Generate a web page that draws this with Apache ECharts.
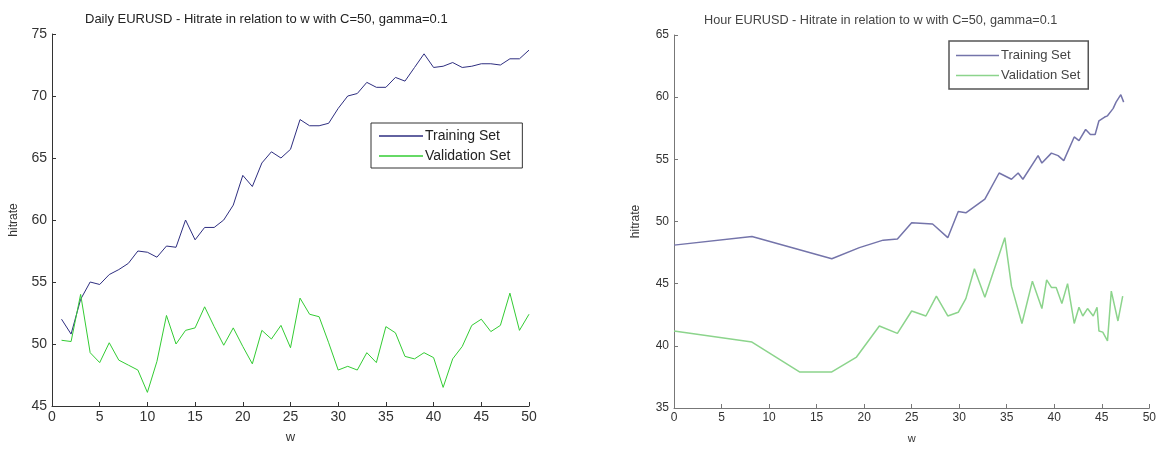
<!DOCTYPE html>
<html>
<head>
<meta charset="utf-8">
<script src="https://cdn.jsdelivr.net/npm/echarts@6/dist/echarts.min.js"></script>
<style>
  html, body { margin: 0; padding: 0; background: #fff; }
  #chart { width: 1159px; height: 449px; }
</style>
</head>
<body>
<div id="chart"></div>
<script>
// daily chart (left)
const dailyW = [1, 2, 3, 4, 5, 6, 7, 8, 9, 10, 11, 12, 13, 14, 15, 16, 17, 18, 19, 20,
  21, 22, 23, 24, 25, 26, 27, 28, 29, 30, 31, 32, 33, 34, 35, 36, 37, 38, 39, 40,
  41, 42, 43, 44, 45, 46, 47, 48, 49, 50];
const dailyTrain = [52.0, 50.8, 53.6, 55.0, 54.8, 55.6, 56.0, 56.5, 57.5, 57.4,
  57.0, 57.9, 57.8, 60.0, 58.4, 59.4, 59.4, 60.0, 61.2, 63.6,
  62.7, 64.6, 65.5, 65.0, 65.7, 68.1, 67.6, 67.6, 67.8, 69.0,
  70.0, 70.2, 71.1, 70.7, 70.7, 71.5, 71.2, 72.3, 73.4, 72.3,
  72.4, 72.7, 72.3, 72.4, 72.6, 72.6, 72.5, 73.0, 73.0, 73.7];
const dailyValid = [50.3, 50.2, 54.0, 49.3, 48.5, 50.1, 48.7, 48.3, 47.9, 46.1,
  48.6, 52.3, 50.0, 51.1, 51.3, 53.0, 51.4, 49.9, 51.3, 49.8,
  48.4, 51.1, 50.4, 51.5, 49.7, 53.7, 52.4, 52.2, 50.1, 47.9,
  48.2, 47.9, 49.3, 48.5, 51.4, 50.9, 49.0, 48.8, 49.3, 48.9,
  46.5, 48.8, 49.8, 51.5, 52.0, 51.0, 51.5, 54.1, 51.1, 52.4];

// hourly chart (right), x positions
const hourTrainW = [0, 8.2, 16.6, 19.5, 22, 23.5, 25, 27.2, 27.5, 28.8, 29.9, 30.7, 32.7,
  34.2, 35.5, 36.2, 36.7, 38.3, 38.7, 39.7, 40.4, 41, 42.1, 42.6, 43.3, 43.8,
  44.3, 44.7, 45.3, 45.6, 46, 46.2, 46.5, 47, 47.3];
const hourTrain = [48.1, 48.8, 47.0, 47.9, 48.5, 48.6, 49.9, 49.8, 49.6, 48.7, 50.8, 50.7, 51.8,
  53.9, 53.4, 53.9, 53.4, 55.3, 54.7, 55.5, 55.3, 54.9, 56.8, 56.5, 57.4, 57.0,
  57.0, 58.1, 58.4, 58.5, 58.9, 59.1, 59.6, 60.2, 59.6];
const hourValidW = [0, 8.2, 13.2, 16.6, 19.2, 21.6, 23.5, 25, 26.5, 27.6, 28.8, 29.9, 30.7,
  31.6, 32.7, 34.8, 35.5, 36.6, 37.7, 38.7, 39.2, 39.7, 40.2, 40.8, 41.4, 42.1,
  42.6, 43, 43.5, 44.1, 44.5, 44.7, 45.1, 45.6, 46, 46.7, 47.2];
const hourValid = [41.2, 40.3, 37.9, 37.9, 39.1, 41.6, 41.0, 42.8, 42.4, 44.0, 42.4, 42.7, 43.8,
  46.2, 43.9, 48.7, 44.8, 41.8, 45.2, 43.0, 45.3, 44.7, 44.7, 43.4, 45.0, 41.8,
  43.1, 42.4, 43.0, 42.4, 43.1, 41.2, 41.1, 40.4, 44.4, 42.0, 44.0];

const xTicks = [0, 5, 10, 15, 20, 25, 30, 35, 40, 45, 50];

const FONT = 'Liberation Sans';
const DARK_BLUE = '#2e2e80';
const DARK_GREEN = '#33cc33';
const PALE_BLUE = '#7474aa';
const PALE_GREEN = '#8cd48c';

function pairs(xs, ys) {
  return xs.map((x, i) => [x, ys[i]]);
}

function xAxisFor(idx, axisColor, size) {
  return {
    gridIndex: idx,
    type: 'value',
    min: xTicks[0],
    max: xTicks[xTicks.length - 1],
    interval: 5,
    name: 'w',
    nameLocation: 'middle',
    nameGap: 25,
    nameTextStyle: { fontFamily: FONT, fontSize: size - 1, color: '#333' },
    splitLine: { show: false },
    axisLine: { lineStyle: { color: axisColor, width: 1 } },
    axisTick: { inside: true, length: 4, lineStyle: { color: axisColor } },
    axisLabel: { fontFamily: FONT, fontSize: size, color: '#333', margin: 4 }
  };
}

function yAxisFor(idx, min, max, axisColor, size) {
  return {
    gridIndex: idx,
    type: 'value',
    min: min,
    max: max,
    interval: 5,
    name: 'hitrate',
    nameLocation: 'middle',
    nameGap: 32,
    nameTextStyle: { fontFamily: FONT, fontSize: 12, color: '#333' },
    splitLine: { show: false },
    axisLine: { show: true, lineStyle: { color: axisColor, width: 1 } },
    axisTick: { show: true, inside: true, length: 4, lineStyle: { color: axisColor } },
    axisLabel: { fontFamily: FONT, fontSize: size, color: '#333', margin: 5 }
  };
}

let chart = echarts.init(document.getElementById('chart'), null, { renderer: 'canvas' });
let option = {
  backgroundColor: '#fff',
  animation: false,
  title: [
    {
      text: 'Daily EURUSD - Hitrate in relation to w with C=50, gamma=0.1',
      left: 80, top: 8,
      textStyle: { fontFamily: FONT, fontSize: 13, fontWeight: 'normal', color: '#222' }
    },
    {
      text: 'Hour EURUSD - Hitrate in relation to w with C=50, gamma=0.1',
      left: 699, top: 9,
      textStyle: { fontFamily: FONT, fontSize: 12.7, fontWeight: 'normal', color: '#444' }
    }
  ],
  legend: [
    {
      orient: 'vertical',
      left: 371, top: 123,
      padding: [6, 12, 5, 8],
      itemGap: 6,
      itemWidth: 44,
      itemHeight: 1.5,
      icon: 'rect',
      borderColor: '#333',
      borderWidth: 1,
      textStyle: { fontFamily: FONT, fontSize: 14, color: '#222', padding: [0, 0, 0, -3] },
      data: [
        { name: 'Training Set', itemStyle: { color: DARK_BLUE } },
        { name: 'Validation Set', itemStyle: { color: DARK_GREEN } }
      ]
    },
    {
      orient: 'vertical',
      left: 949, top: 41,
      padding: [8, 8, 7, 7],
      itemGap: 7,
      itemWidth: 43,
      itemHeight: 1.5,
      icon: 'rect',
      borderColor: '#555',
      borderWidth: 1.5,
      textStyle: { fontFamily: FONT, fontSize: 13, color: '#444', padding: [0, 0, 0, -3] },
      data: [
        { name: 'Training Set', itemStyle: { color: PALE_BLUE } },
        { name: 'Validation Set', itemStyle: { color: PALE_GREEN } }
      ]
    }
  ],
  grid: [
    { left: 52, right: 630, top: 34, bottom: 39 },
    { left: 674, right: 9, top: 35, bottom: 39 }
  ],
  xAxis: [
    xAxisFor(0, '#333', 14),
    xAxisFor(1, '#777', 12)
  ],
  yAxis: [
    yAxisFor(0, 45, 75, '#333', 14),
    yAxisFor(1, 35, 65, '#777', 12)
  ],
  series: [
    {
      name: 'Training Set', type: 'line', xAxisIndex: 0, yAxisIndex: 0,
      symbol: 'none', lineStyle: { color: DARK_BLUE, width: 1 }, itemStyle: { color: DARK_BLUE },
      data: pairs(dailyW, dailyTrain)
    },
    {
      name: 'Validation Set', type: 'line', xAxisIndex: 0, yAxisIndex: 0,
      symbol: 'none', lineStyle: { color: DARK_GREEN, width: 1 }, itemStyle: { color: DARK_GREEN },
      data: pairs(dailyW, dailyValid)
    },
    {
      name: 'Training Set', type: 'line', xAxisIndex: 1, yAxisIndex: 1,
      symbol: 'none', lineStyle: { color: PALE_BLUE, width: 1.5 }, itemStyle: { color: PALE_BLUE },
      data: pairs(hourTrainW, hourTrain)
    },
    {
      name: 'Validation Set', type: 'line', xAxisIndex: 1, yAxisIndex: 1,
      symbol: 'none', lineStyle: { color: PALE_GREEN, width: 1.5 }, itemStyle: { color: PALE_GREEN },
      data: pairs(hourValidW, hourValid)
    }
  ]
};
chart.setOption(option);
window.addEventListener('resize', () => { chart.resize(); });
</script>
</body>
</html>
